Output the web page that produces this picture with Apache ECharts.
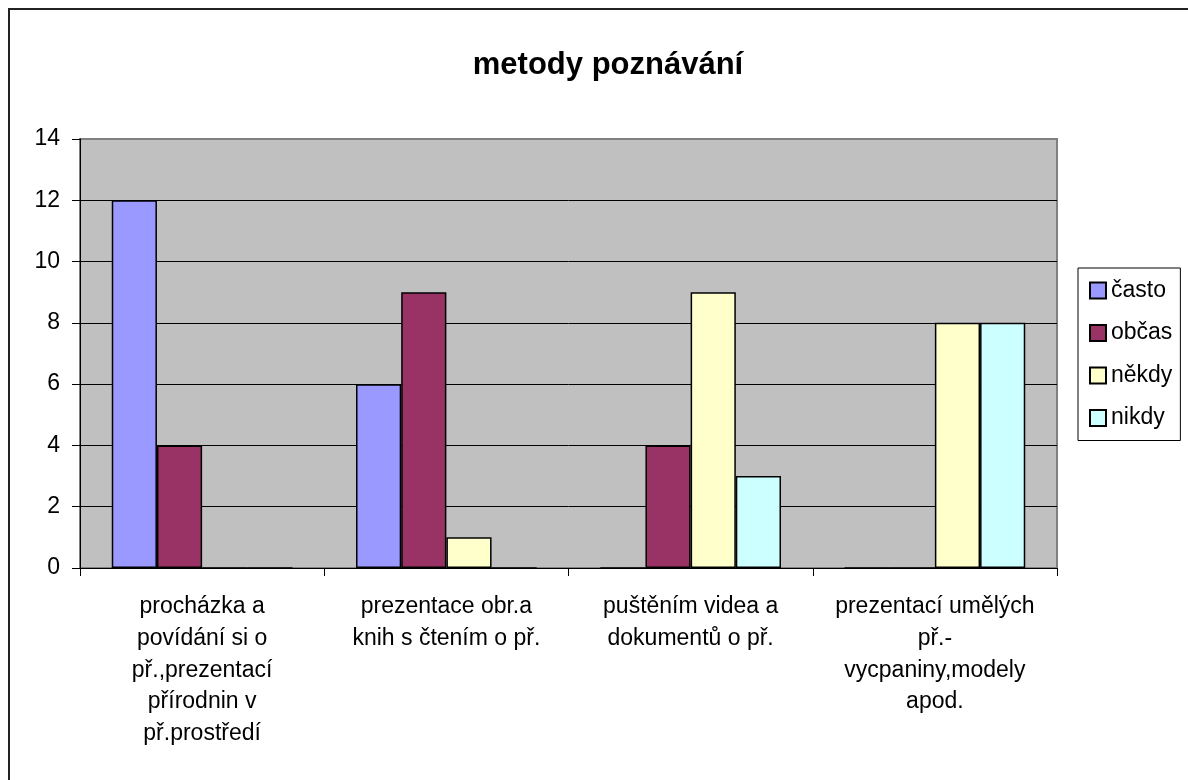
<!DOCTYPE html>
<html>
<head>
<meta charset="utf-8">
<title>metody poznávání</title>
<script src="https://cdn.jsdelivr.net/npm/echarts@6/dist/echarts.min.js"></script>
<style>
  html, body { margin: 0; padding: 0; background: #fff; }
  #frame {
    position: absolute; left: 8px; top: 8px; width: 1190px; height: 780px;
    border-left: 2px solid #222; border-top: 2px solid #222;
  }
  #chart { position: absolute; left: 0; top: 0; width: 1188px; height: 780px; }
</style>
</head>
<body>
<div id="frame"></div>
<div id="chart"></div>
<script>
// kategorie (zalomené jako v originále)
const categories = [
  "procházka a\npovídání si o\npř.,prezentací\npřírodnin v\npř.prostředí",
  "prezentace obr.a\nknih s čtením o př.",
  "puštěním videa a\ndokumentů o př.",
  "prezentací umělých\npř.-\nvycpaniny,modely\napod."
];
const seriesNames = ["často", "občas", "někdy", "nikdy"];
const casto = [12, 6, 0, 0];
const obcas = [4, 9, 4, 0];
const nekdy = [0, 1, 9, 8];
const nikdy = [0, 0, 3, 8];
const colors = ["#9999FF", "#993366", "#FFFFCC", "#CCFFFF"];

const font = "'Liberation Sans', Arial, sans-serif";
const values = [casto, obcas, nekdy, nikdy];

const chart = echarts.init(document.getElementById("chart"));
const option = {
  animation: false,
  title: {
    text: "metody poznávání",
    left: 603,
    textAlign: "center",
    top: 45,
    textStyle: { fontFamily: font, fontSize: 31, fontWeight: "bold", color: "#000" }
  },
  legend: {
    orient: "vertical",
    left: 1078,
    top: 268,
    padding: [11, 8, 11, 11],
    itemGap: 19.5,
    itemWidth: 16,
    itemHeight: 16,
    itemTextGap: 5,
    icon: "rect",
    backgroundColor: "#fff",
    borderColor: "#000",
    borderWidth: 1,
    textStyle: { fontFamily: font, fontSize: 23, color: "#000" },
    data: seriesNames
  },
  grid: {
    left: 80, top: 139, width: 977, height: 429,
    show: true,
    backgroundColor: "#C0C0C0",
    borderColor: "#808080",
    borderWidth: 2
  },
  xAxis: {
    type: "category",
    data: categories,
    axisLine: { lineStyle: { color: "#000", width: 1 } },
    axisTick: { show: true, length: 8, lineStyle: { color: "#000" } },
    axisLabel: {
      interval: 0,
      margin: 23,
      fontFamily: font,
      fontSize: 23,
      lineHeight: 31.7,
      color: "#000",
      align: "center"
    }
  },
  yAxis: {
    type: "value",
    min: 0,
    max: 14,
    interval: 2,
    axisLine: { show: true, lineStyle: { color: "#000", width: 1 } },
    axisTick: { show: true, length: 8, lineStyle: { color: "#000" } },
    axisLabel: { margin: 20, fontFamily: font, fontSize: 23, color: "#000" },
    splitLine: { show: true, showMaxLine: false, lineStyle: { color: "#000", width: 1 } }
  },
  series: seriesNames.map((name, i) => ({
    name: name,
    type: "bar",
    data: values[i],
    barGap: "0%",
    barCategoryGap: "26%",
    itemStyle: { color: colors[i], borderColor: "#000", borderWidth: 1.5 }
  }))
};
chart.setOption(option);
</script>
</body>
</html>
